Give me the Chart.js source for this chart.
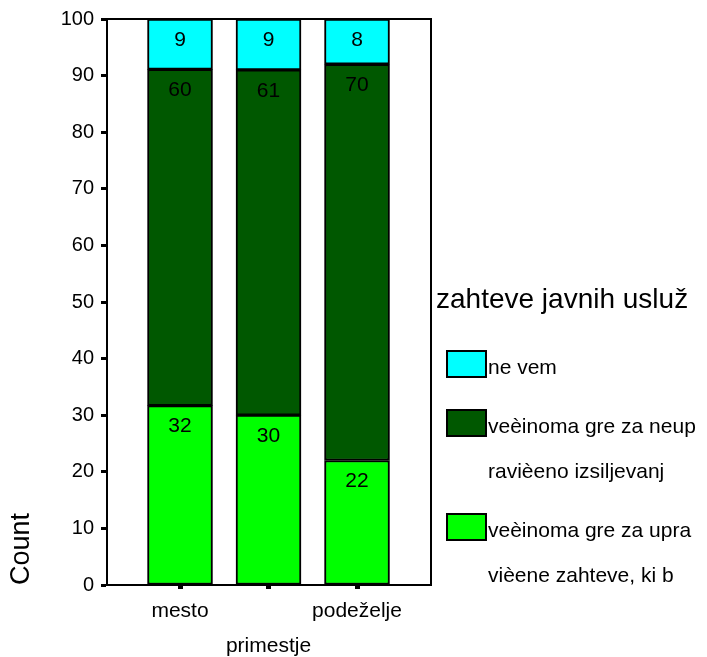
<!DOCTYPE html>
<html>
<head>
<meta charset="utf-8">
<script src="https://cdn.jsdelivr.net/npm/chart.js@4/dist/chart.umd.min.js"></script>
<style>
  html, body { margin: 0; padding: 0; background: #fff; }
  #wrap { width: 707px; height: 657px; }
</style>
</head>
<body>
<div id="wrap"><canvas id="chart" width="707" height="657"></canvas></div>
<script>
const categories = ["mesto", "primestje", "podeželje"];
const xTickLabels = ["mesto", ["", "primestje"], "podeželje"];
const categoryPos = [1, 2, 3];
const yTicks = [0, 10, 20, 30, 40, 50, 60, 70, 80, 90, 100];

// counts shown on the bars (bottom to top)
const upraviceneCounts = [32, 30, 22];
const neupraviceneCounts = [60, 61, 70];
const neVemCounts = [9, 9, 8];

const seriesLines = [
  ["veèinoma gre za upra", "vièene zahteve, ki b"],
  ["veèinoma gre za neup", "ravièeno izsiljevanj"],
  ["ne vem"]
];
const seriesColors = ["#00ff00", "#005800", "#00ffff"];
const legendTitle = "zahteve javnih usluž";
const yTitle = "Count";

const FONT = "'Liberation Sans', Arial, sans-serif";

const totals = categories.map((_, i) => upraviceneCounts[i] + neupraviceneCounts[i] + neVemCounts[i]);
const countSets = [upraviceneCounts, neupraviceneCounts, neVemCounts];

const datasets = countSets.map((counts, k) => ({
  label: seriesLines[k].join(""),
  data: counts.map((c, i) => ({ x: categoryPos[i], y: c / totals[i] * 100 })),
  counts: counts,
  backgroundColor: seriesColors[k],
  borderColor: "#000",
  borderWidth: 2,
  borderSkipped: false,
  barThickness: 65
}));

const extras = {
  id: "extras",
  afterDatasetsDraw(chart) {
    const ctx = chart.ctx;
    const a = chart.chartArea;
    ctx.save();
    // frame
    ctx.strokeStyle = "#000";
    ctx.lineWidth = 2;
    ctx.beginPath();
    ctx.moveTo(a.left, a.top);
    ctx.lineTo(a.right, a.top);
    ctx.lineTo(a.right, a.bottom);
    ctx.stroke();

    // count labels near the top of each segment
    ctx.fillStyle = "#000";
    ctx.font = "21px " + FONT;
    ctx.textAlign = "center";
    ctx.textBaseline = "middle";
    chart.data.datasets.forEach((ds, k) => {
      chart.getDatasetMeta(k).data.forEach((bar, i) => {
        ctx.fillText(String(ds.counts[i]), bar.x, bar.y + 21);
      });
    });

    // y title
    ctx.save();
    ctx.translate(22, a.bottom);
    ctx.rotate(-Math.PI / 2);
    ctx.font = "27px " + FONT;
    ctx.textAlign = "left";
    ctx.textBaseline = "middle";
    ctx.fillText(yTitle, 0, 0);
    ctx.restore();

    // legend
    ctx.textAlign = "left";
    ctx.textBaseline = "middle";
    ctx.font = "28px " + FONT;
    ctx.fillText(legendTitle, 436, 300);
    ctx.font = "21px " + FONT;
    let y = 364;
    for (let k = seriesLines.length - 1; k >= 0; k--) {
      ctx.fillStyle = seriesColors[k];
      ctx.fillRect(447, y - 13, 39, 26);
      ctx.lineWidth = 2;
      ctx.strokeRect(447, y - 13, 39, 26);
      ctx.fillStyle = "#000";
      seriesLines[k].forEach((line, j) => {
        ctx.fillText(line, 488, y + 4 + j * 45);
      });
      y += 59 + (seriesLines[k].length - 1) * 45;
    }
    ctx.restore();
  }
};

new Chart(document.getElementById("chart").getContext("2d"), {
  type: "bar",
  data: { datasets: datasets },
  options: {
    responsive: false,
    animation: false,
    devicePixelRatio: 1,
    layout: { padding: { left: 0, top: 17, right: 276, bottom: 0 } },
    plugins: { legend: { display: false }, tooltip: { enabled: false } },
    scales: {
      x: {
        type: "linear",
        stacked: true,
        offset: false,
        min: 0.175,
        max: 3.836,
        afterFit: (s) => { s.height = 72; },
        afterBuildTicks: (s) => { s.ticks = categoryPos.map(v => ({ value: v })); },
        grid: { offset: false, drawOnChartArea: false, drawTicks: true, tickLength: 4, tickWidth: 5, tickColor: "#000" },
        border: { color: "#000", width: 2 },
        ticks: {
          color: "#000",
          font: { family: FONT, size: 21, lineHeight: 1.7 },
          padding: 4,
          maxRotation: 0,
          autoSkip: false,
          callback: (v) => xTickLabels[categoryPos.indexOf(v)]
        }
      },
      y: {
        stacked: true,
        min: 0,
        max: 100,
        afterFit: (s) => { s.width = 107; },
        afterBuildTicks: (s) => { s.ticks = yTicks.map(v => ({ value: v })); },
        grid: { drawOnChartArea: false, drawTicks: true, tickLength: 6, tickWidth: 3, tickColor: "#000" },
        border: { color: "#000", width: 2 },
        ticks: { color: "#000", font: { family: FONT, size: 20 }, padding: 7 }
      }
    }
  },
  plugins: [extras]
});
</script>
</body>
</html>
